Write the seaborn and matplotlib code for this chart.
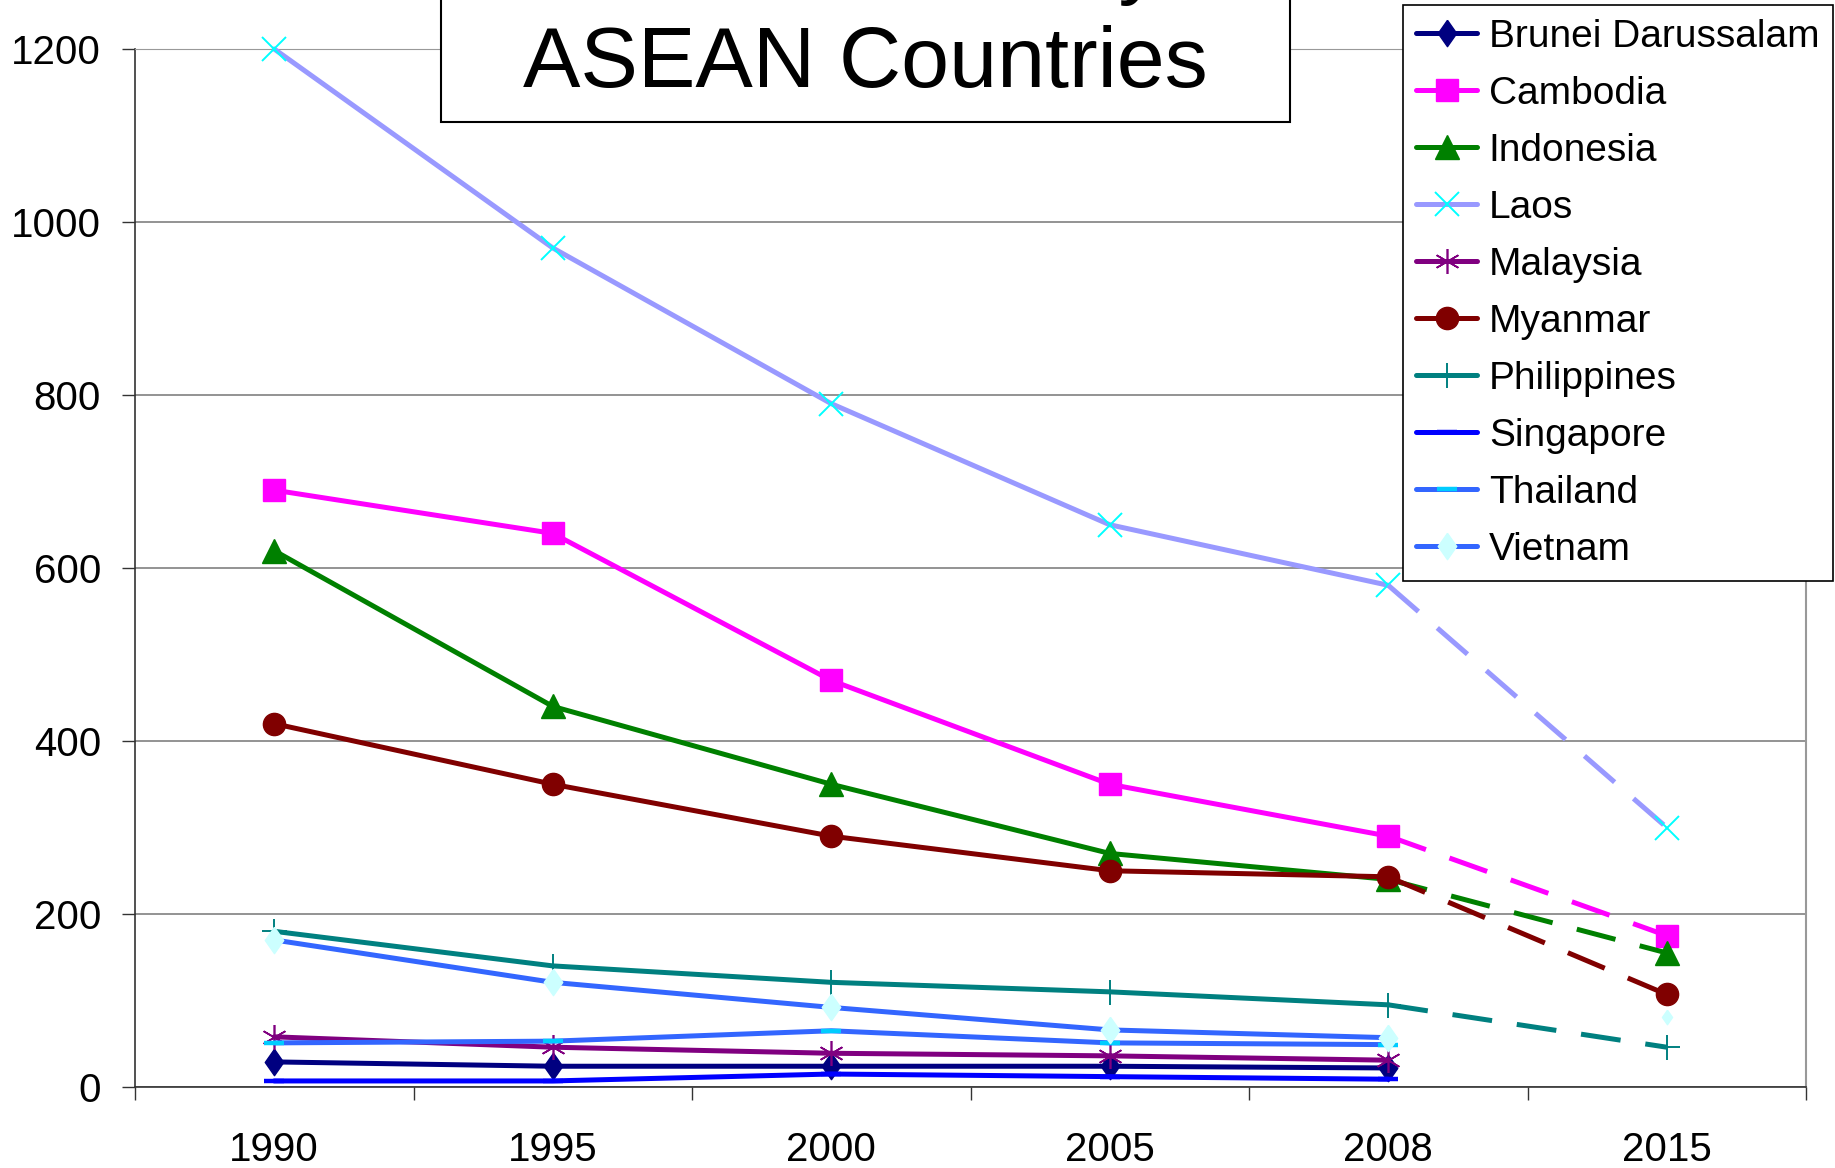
import numpy as np
import matplotlib
matplotlib.use('Agg')  # Non-interactive backend
import matplotlib.pyplot as plt
import seaborn as sns
from matplotlib.patches import Rectangle

# values (maternal deaths per 100,000 live births)
years = ['1990', '1995', '2000', '2005', '2008', '2015']
countries = ['Brunei Darussalam', 'Cambodia', 'Indonesia', 'Laos', 'Malaysia',
             'Myanmar', 'Philippines', 'Singapore', 'Thailand', 'Vietnam']
brunei = [29, 24, 24, 24, 22]
cambodia = [690, 640, 470, 350, 290, 175]
indonesia = [620, 440, 350, 270, 240, 155]
laos = [1200, 970, 790, 650, 580, 300]
malaysia = [58, 46, 39, 36, 31]
myanmar = [420, 350, 290, 250, 243, 107]
philippines = [180, 140, 121, 110, 95, 46]
singapore = [7, 7, 15, 12, 9]
thailand = [51, 53, 65, 51, 49]
vietnam = [170, 121, 92, 66, 57, 81]
values = [brunei, cambodia, indonesia, laos, malaysia,
          myanmar, philippines, singapore, thailand, vietnam]

# 2008 -> 2015 drawn dashed for these; Vietnam 2015 only as a marker
dashed_2015 = ['Cambodia', 'Indonesia', 'Laos', 'Myanmar', 'Philippines']

diamond = [(0, 1), (0.7, 0), (0, -1), (-0.7, 0), (0, 1)]
styles = {
    'Brunei Darussalam': dict(color='#000080', marker=diamond, ms=19, mfc='#000080', mec='#000080', mew=1),
    'Cambodia': dict(color='#FF00FF', marker='s', ms=16, mfc='#FF00FF', mec='#FF00FF', mew=1),
    'Indonesia': dict(color='#008000', marker='^', ms=17.5, mfc='#008000', mec='#008000', mew=1),
    'Laos': dict(color='#9999FF', marker='x', ms=17, mfc='#00FFFF', mec='#00FFFF', mew=1.4),
    'Malaysia': dict(color='#800080', marker=(6, 2, 0), ms=18, mfc='#800080', mec='#800080', mew=1.2),
    'Myanmar': dict(color='#800000', marker='o', ms=16, mfc='#800000', mec='#800000', mew=1),
    'Philippines': dict(color='#008080', marker='+', ms=18, mfc='#008080', mec='#008080', mew=1.4),
    'Singapore': dict(color='#0000FF', marker='_', ms=14, mfc='#0000FF', mec='#0000FF', mew=3.2),
    'Thailand': dict(color='#3366FF', marker='_', ms=14, mfc='#00CCFF', mec='#00CCFF', mew=3.2),
    'Vietnam': dict(color='#3366FF', marker=diamond, ms=19, mfc='#CCFFFF', mec='#CCFFFF', mew=1),
}
line_w = 3.6

sns.set_style('white')
plt.rcParams['font.family'] = ['Liberation Sans', 'DejaVu Sans']
plt.rcParams['text.color'] = 'black'
plt.rcParams['xtick.color'] = 'black'
plt.rcParams['ytick.color'] = 'black'

fig = plt.figure(figsize=(18.35, 11.68), dpi=100)
ax = fig.add_axes([135 / 1835, 1 - 1087 / 1168, (1806 - 135) / 1835, (1087 - 49) / 1168])

x = np.arange(len(years))
handles = []
for name, vals in zip(countries, values):
    st = styles[name]
    sns.lineplot(x=x[:5], y=vals[:5], ax=ax, clip_on=False,
                 legend=False, zorder=3, **st)
    ax.lines[-1].set_linewidth(line_w)
    handles.append(ax.lines[-1])
    if len(vals) > 5:
        if name in dashed_2015:
            sns.lineplot(x=x[4:6], y=vals[4:6], ax=ax,
                         markevery=[1], clip_on=False, legend=False, zorder=3, **st)
            ax.lines[-1].set_linewidth(line_w)
            ax.lines[-1].set_linestyle((0, (8, 5)))
        else:
            small = dict(st, ms=st['ms'] * 0.55)
            sns.lineplot(x=x[5:6], y=vals[5:6], ax=ax, clip_on=False,
                         legend=False, zorder=3, **small)

ax.set_xlim(-0.5, len(years) - 0.5)
ax.set_ylim(0, 1200)
ax.set_yticks(range(0, 1201, 200))
ax.set_xticks(np.arange(-0.5, len(years), 1))
ax.set_xticklabels([])
ax.set_xticks(x, minor=True)
ax.set_xticklabels(years, minor=True)
ax.set_xlabel('')
ax.set_ylabel('')

ax.tick_params(axis='both', which='major', direction='out', length=9.4, width=1,
               color='#333333', labelsize=29, left=True, bottom=True)
ax.tick_params(axis='y', pad=15)
ax.tick_params(axis='x', which='minor', length=0, pad=32, labelsize=29)

ax.yaxis.grid(True, color='#808080', lw=1.2)
ax.xaxis.grid(False)
ax.set_axisbelow(True)
for side in ['left', 'bottom']:
    ax.spines[side].set_color('#333333')
    ax.spines[side].set_linewidth(1.2)
ax.spines['top'].set_color('#999999')
ax.spines['right'].set_color('#999999')
ax.spines['right'].set_linewidth(1.5)

leg = ax.legend(handles, countries, loc='upper right',
                bbox_to_anchor=(1833 / 1835, 1 - 5 / 1168), bbox_transform=fig.transFigure,
                fontsize=28, frameon=True, fancybox=False, framealpha=1,
                edgecolor='black', borderpad=0.35, labelspacing=0.54,
                handlelength=1.56, handletextpad=0.3, borderaxespad=0, numpoints=1)
leg.get_frame().set_linewidth(1.2)
leg.set_zorder(10)

# title box, its top line runs off the top of the picture
fig.add_artist(Rectangle((441 / 1835, 1 - 122 / 1168), (1290 - 441) / 1835, 0.2,
                         transform=fig.transFigure, fc='white', ec='black', lw=1.5, zorder=5))
fig.text(865 / 1835, 1 + 12 / 1168, 'Maternal Mortality in', ha='center', va='baseline',
         fontsize=62, zorder=6)
fig.text(865 / 1835, 1 - 87 / 1168, 'ASEAN Countries', ha='center', va='baseline',
         fontsize=62, zorder=6)

plt.savefig('out.png', dpi=100)
plt.close()
